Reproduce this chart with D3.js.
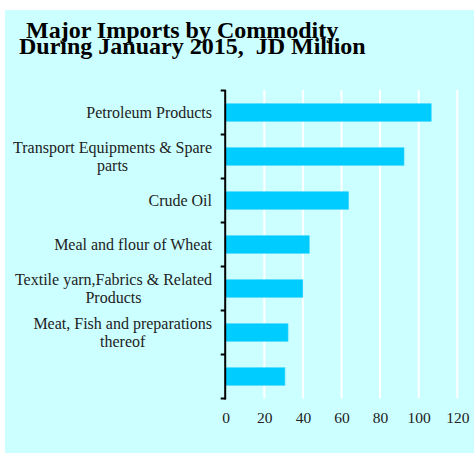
<!DOCTYPE html>
<html>
<head>
<meta charset="utf-8">
<script src="https://cdn.jsdelivr.net/npm/d3@7"></script>
<style>
  html, body { margin: 0; padding: 0; background: #ffffff; }
  svg { display: block; }
  text { font-family: "Liberation Serif", "Times New Roman", serif; }
</style>
</head>
<body>
<svg id="chart" width="474" height="454"></svg>
<script>
// Major imports by commodity, January 2015 (JD million)
const categories = [
  "Petroleum Products",
  "Transport Equipments & Spare parts",
  "Crude Oil",
  "Meal and flour of Wheat",
  "Textile yarn,Fabrics & Related Products",
  "Meat, Fish and preparations thereof",
  ""
];
const values = [106.5, 92.4, 63.7, 43.3, 40.0, 32.3, 30.7];
const xTicks = [0, 20, 40, 60, 80, 100, 120];
const titleLines = ["Major Imports by Commodity", "During January 2015,  JD Million"];

const svg = d3.select("#chart");

// panel background
svg.append("rect")
  .attr("x", 5).attr("y", 10)
  .attr("width", 469).attr("height", 443)
  .attr("fill", "#ccffff");

// title (two tightly stacked lines)
svg.append("text").attr("x", 26).attr("y", 38)
  .attr("font-size", 24).attr("font-weight", "bold").attr("fill", "#000")
  .style("white-space", "pre")
  .text(titleLines[0]);
svg.append("text").attr("x", 19).attr("y", 54)
  .attr("font-size", 24).attr("font-weight", "bold").attr("fill", "#000")
  .style("white-space", "pre")
  .text(titleLines[1]);

const x = d3.scaleLinear().domain([0, 120]).range([225.7, 457.3]);
const y = d3.scaleBand().domain(d3.range(categories.length)).range([90.5, 398.5]).padding(0);
const barH = y.bandwidth() * 0.4;

// vertical gridlines
svg.append("g").selectAll("line")
  .data(xTicks.filter(t => t > 0))
  .join("line")
  .attr("x1", d => x(d)).attr("x2", d => x(d))
  .attr("y1", 90).attr("y2", 398.5)
  .attr("stroke", "#ffffff").attr("stroke-width", 2);

// bars
svg.append("g").selectAll("rect")
  .data(values)
  .join("rect")
  .attr("x", x(0))
  .attr("y", (d, i) => y(i) + y.bandwidth() / 2 - barH / 2)
  .attr("width", d => x(d) - x(0))
  .attr("height", barH)
  .attr("fill", "#00ccff")
  .attr("stroke", "#40d4ff").attr("stroke-width", 0.6);

// x axis tick labels (no axis line)
const xAxis = svg.append("g")
  .attr("transform", `translate(0, 398.5)`)
  .call(d3.axisBottom(x).tickValues(xTicks).tickSize(0).tickPadding(13).tickFormat(d3.format("d")));
xAxis.select(".domain").remove();
xAxis.selectAll("text")
  .attr("font-family", "Liberation Serif, Times New Roman, serif")
  .attr("font-size", 15.5).attr("fill", "#222");

// y axis line with ticks at band boundaries
const yAxisG = svg.append("g");
yAxisG.append("line")
  .attr("x1", x(0) - 0.5).attr("x2", x(0) - 0.5)
  .attr("y1", 90).attr("y2", 399.5)
  .attr("stroke", "#000").attr("stroke-width", 2);
const bounds = d3.range(categories.length + 1).map(i => i < categories.length ? y(i) : y(categories.length - 1) + y.bandwidth());
yAxisG.selectAll("line.tick")
  .data(bounds)
  .join("line").attr("class", "tick")
  .attr("x1", x(0) - 5).attr("x2", x(0))
  .attr("y1", d => d).attr("y2", d => d)
  .attr("stroke", "#000").attr("stroke-width", 2);

// category labels, wrapped; multi-line blocks are centred and right-aligned as a block
const labelRight = 212;
const labelSize = 16;
const lineH = 17.7;
const measure = svg.append("text").attr("font-size", labelSize).attr("visibility", "hidden");
function textWidth(s) { measure.text(s); return measure.node().getComputedTextLength(); }
function wrap(s, maxW) {
  const words = s.split(" ");
  const lines = [];
  let cur = "";
  words.forEach(w => {
    const t = cur ? cur + " " + w : w;
    if (cur && textWidth(t) > maxW) { lines.push(cur); cur = w; } else { cur = t; }
  });
  if (cur) lines.push(cur);
  return lines;
}
const labels = svg.append("g");
categories.forEach((c, i) => {
  if (!c) return;
  const lines = wrap(c, 206);
  const blockW = d3.max(lines, textWidth);
  const cx = labelRight - blockW / 2;
  const cy = y(i) + y.bandwidth() / 2;
  const t = labels.append("text")
    .attr("font-size", labelSize).attr("fill", "#222")
    .attr("text-anchor", "middle");
  lines.forEach((ln, k) => {
    t.append("tspan")
      .attr("x", cx)
      .attr("y", cy + (k - (lines.length - 1) / 2) * lineH)
      .attr("dy", "0.35em")
      .text(ln);
  });
});
measure.remove();
</script>
</body>
</html>
